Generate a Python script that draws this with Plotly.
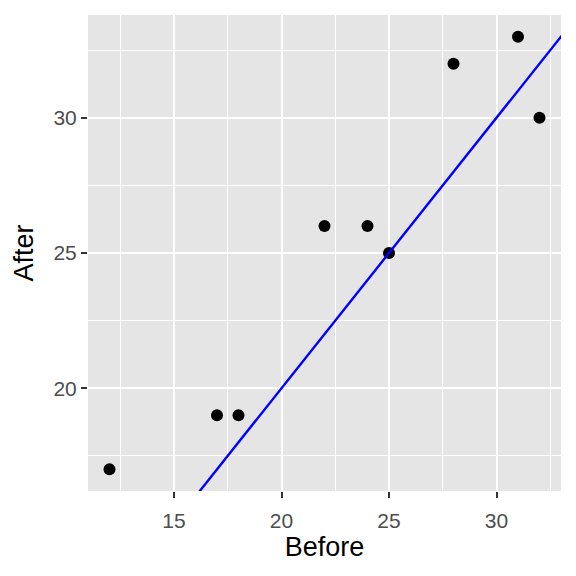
import plotly.graph_objects as go

before = [12, 17, 18, 22, 24, 25, 28, 31, 32]
after = [17, 19, 19, 26, 26, 25, 32, 33, 30]
line_intercept = 0
line_slope = 1
x_ticks = [15, 20, 25, 30]
y_ticks = [20, 25, 30]

xr = [min(before) - 0.05 * (max(before) - min(before)), max(before) + 0.05 * (max(before) - min(before))]
yr = [min(after) - 0.05 * (max(after) - min(after)), max(after) + 0.05 * (max(after) - min(after))]

lx = [xr[0] - 10, xr[1] + 10]
ly = [line_intercept + line_slope * v for v in lx]

fig = go.Figure()
fig.add_trace(go.Scatter(x=before, y=after, mode="markers",
                         marker=dict(color="black", size=12), showlegend=False))
fig.add_trace(go.Scatter(x=lx, y=ly, mode="lines",
                         line=dict(color="blue", width=2.4), showlegend=False))

FONT = "Liberation Sans, Arial, sans-serif"
axis_common = dict(
    showgrid=True, gridcolor="white", gridwidth=2,
    zeroline=False, showline=False,
    ticks="outside", ticklen=6, tickwidth=1.6, tickcolor="#333333",
    tickfont=dict(family=FONT, size=21, color="#4D4D4D"),
)
minor = dict(dtick=2.5, tick0=2.5, showgrid=True, gridcolor="white", gridwidth=1, ticks="")

fig.update_layout(
    width=576, height=576,
    margin=dict(l=88, r=15, t=15, b=85),
    paper_bgcolor="white", plot_bgcolor="#E5E5E5",
    xaxis=dict(range=xr, tickvals=x_ticks, minor=minor, ticklabelstandoff=5,
               title=dict(text="Before", font=dict(family=FONT, size=27, color="black"), standoff=4),
               **axis_common),
    yaxis=dict(range=yr, tickvals=y_ticks, minor=minor,
               title=dict(text="After", font=dict(family=FONT, size=27, color="black"), standoff=11),
               **axis_common),
)

fig.write_html("out.html", config={"displayModeBar": False},
               post_script="document.body.style.margin='0';")
